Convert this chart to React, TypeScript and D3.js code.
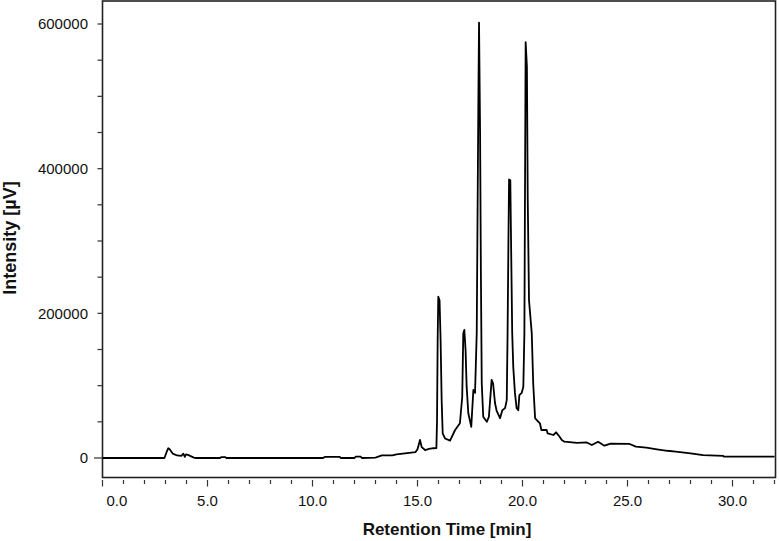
import React from "react";
import * as d3 from "d3";

// Retention time (min) and detector intensity (µV)
const retentionTime: number[] = [
  0, 2.95, 3.05, 3.13, 3.2, 3.35, 3.55, 3.75, 3.85, 3.92, 3.98, 4.1, 4.2, 4.35, 4.45,
  5.6, 5.65, 5.85, 5.9, 10.5, 10.6, 11.3, 11.35, 12.0, 12.05, 12.3, 12.35,
  13.0, 13.3, 13.8, 14.0, 14.4, 14.9, 15.0, 15.12, 15.2, 15.36, 15.55, 15.75, 15.9,
  15.93, 15.96, 15.99, 16.05, 16.1, 16.15, 16.2, 16.31, 16.55, 16.79, 17.02, 17.13,
  17.18, 17.23, 17.29, 17.34, 17.42, 17.56, 17.66, 17.74, 17.82, 17.9, 17.93, 17.98,
  18.02, 18.06, 18.13, 18.3, 18.4, 18.53, 18.6, 18.69, 18.77, 18.93, 19.04, 19.17,
  19.25, 19.29, 19.33, 19.36, 19.42, 19.45, 19.51, 19.56, 19.64, 19.72, 19.8, 19.85,
  19.96, 20.04, 20.09, 20.15, 20.21, 20.25, 20.31, 20.44, 20.51, 20.6, 20.68, 20.83,
  20.9, 21.15, 21.2, 21.47, 21.6, 21.75, 21.87, 22.0, 22.6, 23.06, 23.3, 23.6, 23.9,
  24.2, 25.1, 25.4, 25.9, 26.4, 26.9, 27.3, 28.0, 28.6, 29.56, 29.6, 32.0,
];
const intensity: number[] = [
  0, 0, 8000, 13400, 12000, 6000, 3500, 3000, 6000, 1500, 5000, 4000, 2500, 500, 0,
  0, 1200, 1200, 0, 0, 1500, 1500, 0, 0, 1800, 1800, 0,
  500, 3500, 3500, 5000, 6500, 8000, 12000, 24900, 15000, 11000, 12500, 13500, 13800,
  52000, 163000, 223000, 218000, 163000, 80000, 34000, 27000, 24000, 38700, 48000, 84700,
  172000, 177000, 149000, 98600, 61800, 43000, 94000, 90000, 172000, 500000, 602000, 450000,
  250000, 103000, 57000, 50000, 57000, 108000, 103000, 76000, 65000, 55000, 66000, 69000,
  80000, 173000, 300000, 385000, 384000, 311000, 173000, 126000, 90000, 69000, 66000, 87000,
  90000, 98600, 173000, 575000, 541000, 357000, 218000, 173000, 103000, 55000, 52500, 48000,
  38700, 38700, 34000, 31800, 35500, 30000, 24900, 22500, 21000, 21500, 18000, 22500, 17000,
  20000, 19400, 15700, 14300, 12000, 10000, 8700, 6500, 4100, 2800, 1800, 1800,
];

const xMajorTicks: number[] = [0, 5, 10, 15, 20, 25, 30];
const xTickLabels: string[] = ["0.0", "5.0", "10.0", "15.0", "20.0", "25.0", "30.0"];
const yMajorTicks: number[] = [0, 200000, 400000, 600000];
const yTickLabels: string[] = ["0", "200000", "400000", "600000"];

const W = 779;
const H = 541;
const FONT = "'Liberation Sans', Arial, sans-serif";

export default function App() {
  const x = d3.scaleLinear().domain([0, 32]).range([102.5, 774.5]);
  const y = d3.scaleLinear().domain([0, 600000]).range([458, 24]);
  const plotTop = 1;
  const plotBottom = 477.5;
  const plotLeft = 102.5;
  const plotRight = 775.5;

  const data = retentionTime.map((t, i) => [t, intensity[i]] as [number, number]);
  const line = d3
    .line<[number, number]>()
    .x((d) => x(d[0]))
    .y((d) => y(d[1]));

  const xMinor = d3.range(0, 33, 1);
  const yMinor = d3.range(0, 600001, 50000);

  return (
    <svg
      width={W}
      height={H}
      style={{ position: "absolute", left: 0, top: 0, background: "#fff" }}
    >
      <rect x={0} y={0} width={W} height={H} fill="#fff" />
      {/* frame */}
      <rect
        x={plotLeft}
        y={plotTop}
        width={plotRight - plotLeft}
        height={plotBottom - plotTop}
        fill="none"
        stroke="#222"
        strokeWidth={1.6}
      />
      {/* y ticks */}
      {yMinor.map((v) => (
        <line
          key={"ym" + v}
          x1={v === 0 ? 94 : 97.5}
          x2={plotLeft}
          y1={y(v)}
          y2={y(v)}
          stroke="#333"
          strokeWidth={1.2}
        />
      ))}
      {yMajorTicks.map((v, i) => (
        <text
          key={"yl" + v}
          x={88}
          y={y(v)}
          dy="0.36em"
          textAnchor="end"
          fontFamily={FONT}
          fontSize={15}
          fill="#111"
        >
          {yTickLabels[i]}
        </text>
      ))}
      {/* x ticks */}
      {xMinor.map((t) => (
        <line
          key={"xm" + t}
          x1={x(t)}
          x2={x(t)}
          y1={plotBottom + 2.5}
          y2={t % 5 === 0 ? plotBottom + 9 : plotBottom + 6.5}
          stroke="#333"
          strokeWidth={1.2}
        />
      ))}
      {xMajorTicks.map((t, i) => (
        <text
          key={"xl" + t}
          x={t === 0 ? x(t) + 4 : x(t)}
          y={506}
          textAnchor={t === 0 ? "start" : "middle"}
          fontFamily={FONT}
          fontSize={15}
          fill="#111"
        >
          {xTickLabels[i]}
        </text>
      ))}
      {/* data line */}
      <path
        d={line(data) || ""}
        fill="none"
        stroke="#000"
        strokeWidth={1.8}
        strokeLinejoin="round"
      />
      {/* axis titles */}
      <text
        x={447}
        y={535}
        textAnchor="middle"
        fontFamily={FONT}
        fontWeight="bold"
        fontSize={17}
        fill="#111"
      >
        Retention Time [min]
      </text>
      <text
        transform={`translate(16,238) rotate(-90)`}
        textAnchor="middle"
        fontFamily={FONT}
        fontWeight="bold"
        fontSize={18}
        fill="#111"
      >
        Intensity [µV]
      </text>
    </svg>
  );
}
